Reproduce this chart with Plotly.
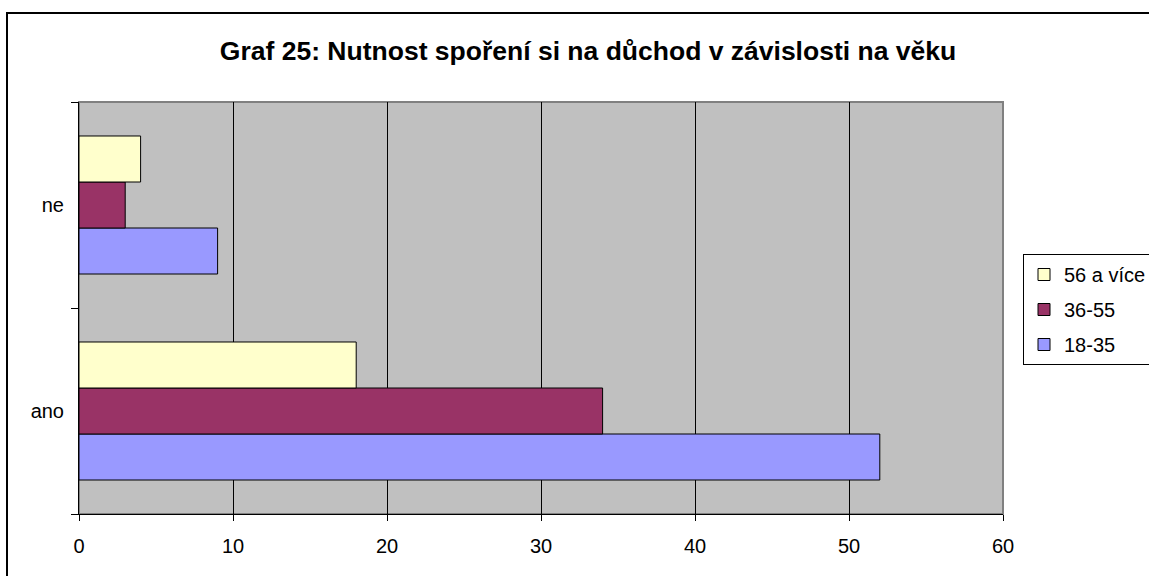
import plotly.graph_objects as go

categories = ["ano", "ne"]
series_names = ["18-35", "36-55", "56 a více"]
values_18_35 = [52, 9]
values_36_55 = [34, 3]
values_56 = [18, 4]
colors = ["#9999FF", "#993366", "#FFFFCC"]
x_ticks = [0, 10, 20, 30, 40, 50, 60]

fig = go.Figure()
for i, (name, vals) in enumerate(zip(series_names, [values_18_35, values_36_55, values_56])):
    fig.add_trace(go.Bar(
        y=categories, x=vals, name=name, orientation="h",
        marker=dict(color=colors[i], line=dict(color="black", width=1)),
        legendgroup=name, legendrank=10 - i,
    ))

W, H = 1149, 576
L, R, T, B = 79, 1003, 102, 514
pw, ph = R - L, B - T

def px_x(p):
    return (p - L) / pw

def px_y(p):
    return (B - p) / ph

fig.update_layout(
    width=W, height=H,
    margin=dict(l=L, r=W - R, t=T, b=H - B, pad=0, autoexpand=False),
    paper_bgcolor="white",
    plot_bgcolor="#C0C0C0",
    barmode="group",
    bargap=0.33,
    bargroupgap=0,
    font=dict(family="Liberation Sans, Arial, sans-serif", size=20, color="black"),
    title=dict(
        text="<b>Graf 25: Nutnost spoření si na důchod v závislosti na věku</b>",
        x=588 / W, xanchor="center", xref="container",
        y=1 - 51 / H, yanchor="middle", yref="container",
        font=dict(size=26.5, color="black"),
    ),
    xaxis=dict(
        range=[0, 60], tickvals=x_ticks, showgrid=True, gridcolor="black", gridwidth=1,
        showline=True, linecolor="black", linewidth=1, ticks="outside", ticklen=6,
        tickcolor="black", zeroline=False, ticklabelstandoff=8,
    ),
    yaxis=dict(
        categoryorder="array", categoryarray=categories, showgrid=False,
        showline=True, linecolor="black", linewidth=1, ticks="outside", ticklen=7,
        tickcolor="black", tickson="boundaries", ticklabelstandoff=10,
    ),
    legend=dict(
        x=px_x(1023), xanchor="left", y=px_y(254), yanchor="top",
        bordercolor="black", borderwidth=1, bgcolor="white",
        traceorder="grouped", tracegroupgap=6,
        font=dict(size=20), itemwidth=30,
    ),
    showlegend=True,
    shapes=[
        dict(type="rect", xref="paper", yref="paper", x0=0, x1=1, y0=0, y1=1,
             line=dict(color="#808080", width=2), layer="below"),
        dict(type="rect", xref="paper", yref="paper",
             x0=px_x(7), x1=px_x(1160), y0=px_y(590), y1=px_y(13),
             line=dict(color="black", width=2), layer="below"),
    ],
)

fig.write_html("out.html", config={"displayModeBar": False},
               post_script="document.body.style.margin='0';")
